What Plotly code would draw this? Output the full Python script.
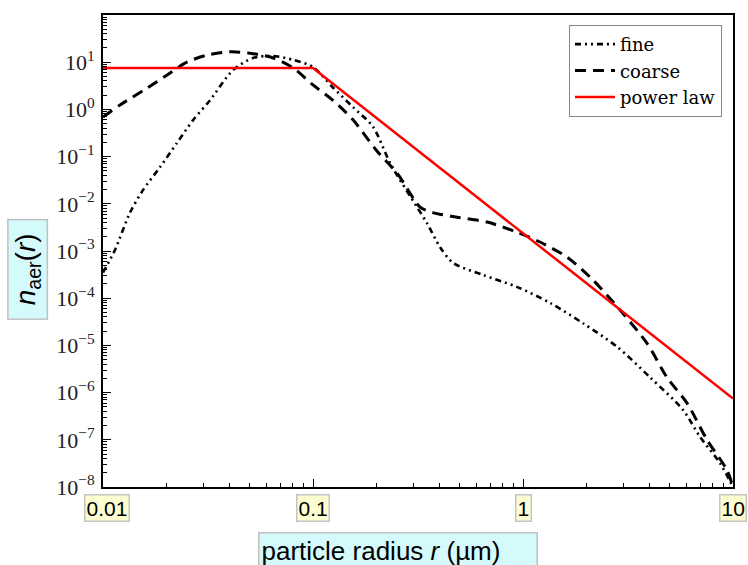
import math
import plotly.graph_objects as go

# ---- data ----
r_fine = [0.01, 0.0114, 0.01345, 0.0155, 0.0187, 0.0225, 0.0269, 0.0324, 0.0416, 0.0518,
          0.0646, 0.0804, 0.1, 0.124, 0.155, 0.193, 0.234, 0.313, 0.349, 0.403,
          0.465, 0.646, 0.935, 1.35, 1.93, 2.81, 4.03, 5.78, 6.97, 8.67, 10.0]
n_fine = [3.5e-4, 1.05e-3, 6.5e-3, 0.0195, 0.060, 0.195, 0.60, 1.58, 6.8, 12.3,
          13.5, 11.2, 7.9, 2.95, 1.12, 0.43, 0.07, 0.0085, 3.9e-3, 1.2e-3,
          5.6e-4, 3.1e-4, 1.74e-4, 7.9e-5, 2.95e-5, 9.3e-6, 2.1e-6, 4.3e-7, 1.15e-7, 3.2e-8, 1.0e-8]

r_coarse = [0.01, 0.01205, 0.0162, 0.0202, 0.0251, 0.0313, 0.0403, 0.0501, 0.0646, 0.0804,
            0.1, 0.124, 0.155, 0.202, 0.251, 0.324, 0.372, 0.485, 0.675, 0.935,
            1.205, 1.62, 2.15, 2.90, 3.89, 4.85, 6.04, 7.52, 9.35, 10.0]
n_coarse = [0.69, 1.24, 2.82, 5.37, 10.0, 14.1, 16.6, 15.5, 12.3, 7.6,
            3.3, 1.58, 0.60, 0.13, 0.045, 0.0085, 0.0065, 0.0052, 0.0041, 0.0025,
            0.00155, 7.4e-4, 2.45e-4, 5.6e-5, 1.12e-5, 2.1e-6, 6.0e-7, 1.0e-7, 2.3e-8, 1.0e-8]

r_power = [0.01, 0.1, 10.0]
n_power = [7.5, 7.5, 7.5e-7]

x_tick_vals = [0.01, 0.1, 1, 10]
x_tick_text = ["0.01", "0.1", "1", "10"]
y_tick_vals = [1e-8, 1e-7, 1e-6, 1e-5, 1e-4, 1e-3, 1e-2, 1e-1, 1e0, 1e1, 1e2]
y_tick_text = ["10<sup>−8</sup>", "10<sup>−7</sup>", "10<sup>−6</sup>", "10<sup>−5</sup>",
               "10<sup>−4</sup>", "10<sup>−3</sup>", "10<sup>−2</sup>", "10<sup>−1</sup>",
               "10<sup>0</sup>", "10<sup>1</sup>", "10<sup>2</sup>"]
series_names = ["fine", "coarse", "power law"]
x_title = "particle radius <i>r</i> (µm)"
y_title = "<i>n</i><sub>aer</sub>(<i>r</i>)"

SERIF = "Liberation Serif"
LEGEND_FONT = "DejaVu Serif"
SANS = "Liberation Sans, Arial, sans-serif"

# minor tick positions (2..9 within each decade) -- axis styling only
x_minor = [m * 10.0 ** e for e in range(-2, 1) for m in range(2, 10)]
y_minor = [m * 10.0 ** e for e in range(-8, 2) for m in range(2, 10)]

fig = go.Figure()
fig.add_trace(go.Scatter(x=r_fine, y=n_fine, mode="lines", name=series_names[0],
                         line=dict(color="black", width=2.6, dash="6px,4px,2px,4px,2px,4px",
                                   shape="spline", smoothing=0.8)))
fig.add_trace(go.Scatter(x=r_coarse, y=n_coarse, mode="lines", name=series_names[1],
                         line=dict(color="black", width=3, dash="11px,7px",
                                   shape="spline", smoothing=0.8)))
fig.add_trace(go.Scatter(x=r_power, y=n_power, mode="lines", name=series_names[2],
                         line=dict(color="#ff0000", width=2.5)))

annotations = []
for v, t in zip(x_tick_vals, x_tick_text):
    annotations.append(dict(
        x=math.log10(v), xref="x", y=0, yref="paper", yanchor="top", yshift=-7,
        xshift=4 if v == x_tick_vals[0] else 0,
        text=t, showarrow=False, font=dict(family=SANS, size=21, color="black"),
        bgcolor="#fdfdd2", bordercolor="#c4c4c4", borderwidth=1.5, borderpad=1))

annotations.append(dict(
    x=0.4675, xref="paper", xanchor="center", y=0, yref="paper", yanchor="top", yshift=-45,
    text=x_title, showarrow=False, align="left", valign="top", width=273, height=30,
    font=dict(family=SANS, size=26, color="black"),
    bgcolor="#d4fafc", bordercolor="#c0c0c0", borderwidth=1.5, borderpad=2))

annotations.append(dict(
    x=0, xref="paper", xanchor="center", xshift=-75, y=0.46, yref="paper", yanchor="middle",
    text=y_title, showarrow=False, textangle=-90, width=94, height=34,
    font=dict(family=SANS, size=28, color="black"),
    bgcolor="#d4fafc", bordercolor="#c0c0c0", borderwidth=1.5, borderpad=2))

fig.update_layout(
    width=748, height=565,
    margin=dict(l=103, r=15, t=15, b=78),
    paper_bgcolor="white", plot_bgcolor="white",
    showlegend=True,
    legend=dict(x=0.9825, xanchor="right", y=0.979, yanchor="top",
                bgcolor="white", bordercolor="#888888", borderwidth=1,
                font=dict(family=LEGEND_FONT, size=18, color="black"),
                itemwidth=40, tracegroupgap=0),
    annotations=annotations,
)

fig.update_xaxes(type="log", range=[-2, 1], showgrid=False, zeroline=False,
                 showline=True, linecolor="black", linewidth=2, mirror=True,
                 ticks="inside", ticklen=8, tickcolor="black", tickwidth=1,
                 tickvals=x_tick_vals, showticklabels=False,
                 minor=dict(ticks="inside", ticklen=4, tickcolor="black", showgrid=False,
                            tickvals=x_minor))

fig.update_yaxes(type="log", range=[-8, 2], showgrid=False, zeroline=False,
                 showline=True, linecolor="black", linewidth=2, mirror=True,
                 ticks="inside", ticklen=8, tickcolor="black", tickwidth=1,
                 tickvals=y_tick_vals, ticktext=y_tick_text, ticklabelstandoff=2,
                 tickfont=dict(family=SERIF, size=22, color="#222222"),
                 minor=dict(ticks="inside", ticklen=4, tickcolor="black", showgrid=False,
                            tickvals=y_minor))

fig.write_html("out.html")
